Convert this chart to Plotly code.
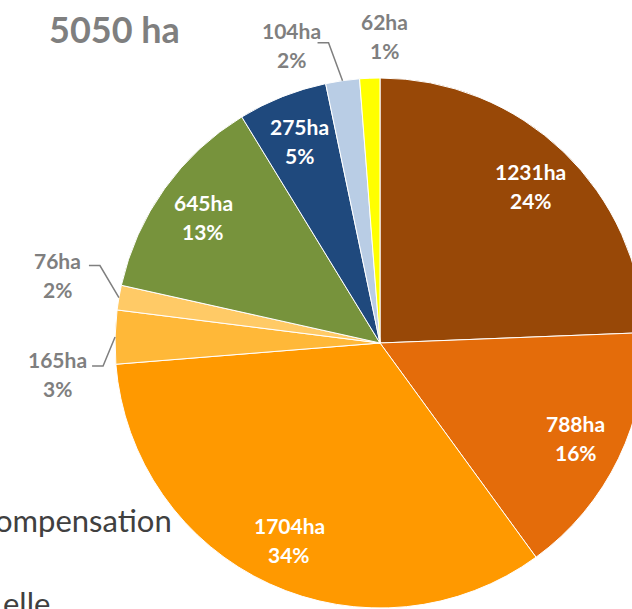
import math
import plotly.graph_objects as go

# ---------------- Data ----------------
labels = ["A", "B", "C", "D", "E", "F", "G", "H", "I"]
values = [1231, 788, 1704, 165, 76, 645, 275, 104, 62]
colors = ["#984807", "#E46C0A", "#FF9900", "#FFB838", "#FFCA66",
          "#77933C", "#1F497D", "#B9CDE5", "#FFFF00"]
outside = [False, False, False, True, True, False, False, True, True]
total_label = "5050 ha"
side_texts = ["ompensation", "elle"]

# ---------------- Geometry (figure larger than the window) ----------------
W, H = 800, 800
cx, cy, r = 380, 343, 265
LINE = 14.5  # half line spacing of the two-line labels


def px(x):
    return x / W


def py(y):
    return 1 - y / H


fig = go.Figure(go.Pie(
    labels=labels,
    values=values,
    sort=False,
    direction="clockwise",
    rotation=0,
    marker=dict(colors=colors, line=dict(color="white", width=1)),
    textinfo="none",
    hoverinfo="label+value+percent",
    showlegend=False,
    domain=dict(x=[px(cx - r), px(cx + r)], y=[py(cy + r), py(cy - r)]),
))


def two_line(x, y, l1, l2, color):
    for dy, t in ((-LINE, l1), (LINE, l2)):
        fig.add_annotation(x=px(x), y=py(y + dy), xref="paper", yref="paper",
                           xanchor="center", yanchor="middle",
                           showarrow=False, text="<b>" + t + "</b>",
                           font=dict(family="Lato", size=21, color=color))


total = sum(values)
# label offsets (pixels, relative to the slice edge point) for outside labels
out_offsets = {3: (-58, 37), 4: (-61, -23), 7: (-51, -36), 8: (15, -42)}
leader = {3: [(-12, 29), (-23, 29)], 4: [(-19, -32), (-30, -32)],
          7: [(-14, -38), (-25, -38)]}

cum = 0
for i, v in enumerate(values):
    mid = (cum + v / 2) / total * 2 * math.pi
    cum += v
    pct = round(v / total * 100)
    l1, l2 = f"{v}ha", f"{pct}%"
    sx, sy = math.sin(mid), -math.cos(mid)
    if not outside[i]:
        two_line(cx + 0.82 * r * sx, cy + 0.82 * r * sy, l1, l2, "white")
    else:
        tx, ty = cx + r * sx, cy + r * sy
        ox, oy = out_offsets[i]
        two_line(tx + ox, ty + oy, l1, l2, "#7F7F7F")
        if i in leader:
            pts = [(tx, ty)] + [(tx + a, ty + b) for a, b in leader[i]]
            path = "M " + " L ".join(f"{px(a)},{py(b)}" for a, b in pts)
            fig.add_shape(type="path", path=path, xref="paper", yref="paper",
                          line=dict(color="#7F7F7F", width=1.5))

fig.add_annotation(x=px(47), y=py(29), xref="paper", yref="paper", xanchor="left",
                   yanchor="middle", showarrow=False, text="<b>" + total_label + "</b>",
                   font=dict(family="Lato", size=36, color="#7F7F7F"))
fig.add_annotation(x=px(174), y=py(520), xref="paper", yref="paper", xanchor="right",
                   yanchor="middle", showarrow=False, text=side_texts[0],
                   font=dict(family="Lato", size=31, color="#404040"))
fig.add_annotation(x=px(52), y=py(603), xref="paper", yref="paper", xanchor="right",
                   yanchor="middle", showarrow=False, text=side_texts[1],
                   font=dict(family="Lato", size=31, color="#404040"))

fig.update_layout(width=W, height=H, margin=dict(l=0, r=0, t=0, b=0),
                  paper_bgcolor="white", plot_bgcolor="white")

fig.write_html("out.html", post_script="document.body.style.margin='0';document.body.style.overflow='hidden';")
